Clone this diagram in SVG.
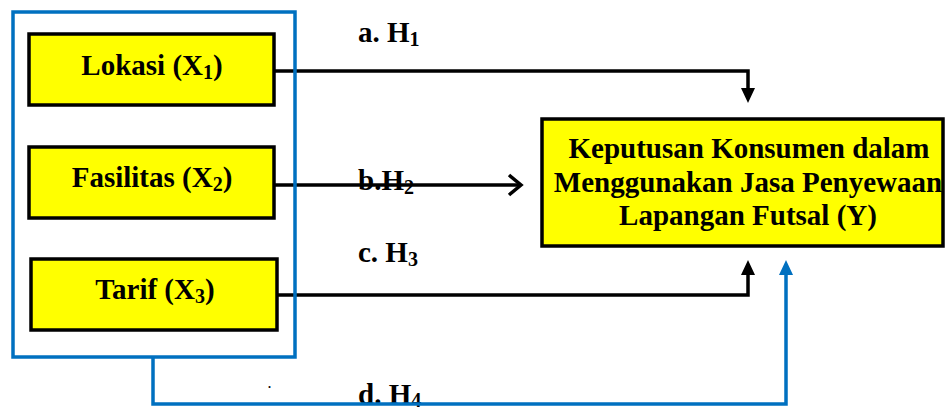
<svg xmlns="http://www.w3.org/2000/svg" width="946" height="412" viewBox="0 0 946 412">
  <style>
    text { font-family: "Liberation Serif", "Times New Roman", serif; font-weight: bold; font-size: 29px; fill: #000; }
    .mid { text-anchor: middle; }
    .sub { font-size: 20px; }
    .box { fill: #FFFF00; stroke: #000; stroke-width: 3.5; }
    .frame { fill: none; stroke: #0070C0; stroke-width: 3.5; }
    .blk { fill: none; stroke: #000; stroke-width: 3.5; }
    .blu { fill: none; stroke: #0070C0; stroke-width: 3.5; }
  </style>
  <defs>
    <marker id="triK" markerUnits="userSpaceOnUse" viewBox="0 0 15 14" refX="0" refY="7" markerWidth="15" markerHeight="14" orient="auto" overflow="visible">
      <path d="M0,0 L15,7 L0,14 z" fill="#000"/>
    </marker>
    <marker id="triB" markerUnits="userSpaceOnUse" viewBox="0 0 15 14" refX="0" refY="7" markerWidth="15" markerHeight="14" orient="auto" overflow="visible">
      <path d="M0,0 L15,7 L0,14 z" fill="#0070C0"/>
    </marker>
    <marker id="chev" markerUnits="userSpaceOnUse" viewBox="-14 -12 16 24" refX="0" refY="0" markerWidth="16" markerHeight="24" orient="auto" overflow="visible">
      <path d="M-12,-10 L0,0 L-12,10" fill="none" stroke="#000" stroke-width="3.5"/>
    </marker>
  </defs>

  <g id="labels">
    <text x="358" y="42">a. H<tspan class="sub" dy="4">1</tspan></text>
    <text x="358" y="190">b.H<tspan class="sub" dy="4">2</tspan></text>
    <text x="358" y="262">c. H<tspan class="sub" dy="4">3</tspan></text>
    <text x="358" y="404">d. H<tspan class="sub" dy="3">4</tspan></text>
    <text x="268" y="388" style="font-size:12px">.</text>
  </g>

  <g id="connectors">
    <path class="blk" d="M274,71 H748 V88" marker-end="url(#triK)"/>
    <path class="blk" d="M274,185 H521" marker-end="url(#chev)"/>
    <path class="blk" d="M277,295 H748 V275" marker-end="url(#triK)"/>
    <path class="blu" d="M153,357 V404 H786 V275" marker-end="url(#triB)"/>
  </g>

  <g id="group-x">
    <rect class="frame" x="13" y="12" width="282" height="345"/>
  </g>

  <g id="lokasi">
    <rect class="box" x="29" y="34" width="245" height="71"/>
    <text class="mid" x="152" y="75">Lokasi (X<tspan class="sub" dy="4">1</tspan><tspan dy="-4">)</tspan></text>
  </g>

  <g id="fasilitas">
    <rect class="box" x="29" y="147" width="245" height="71"/>
    <text class="mid" x="152" y="187">Fasilitas (X<tspan class="sub" dy="4">2</tspan><tspan dy="-4">)</tspan></text>
  </g>

  <g id="tarif">
    <rect class="box" x="31" y="259" width="246" height="71"/>
    <text class="mid" x="155" y="299">Tarif (X<tspan class="sub" dy="4">3</tspan><tspan dy="-4">)</tspan></text>
  </g>

  <g id="keputusan">
    <rect class="box" x="542" y="119" width="401" height="127"/>
    <text class="mid" x="749" y="158">Keputusan Konsumen dalam</text>
    <text class="mid" x="748" y="192">Menggunakan Jasa Penyewaan</text>
    <text class="mid" x="748" y="225">Lapangan Futsal (Y)</text>
  </g>
</svg>
